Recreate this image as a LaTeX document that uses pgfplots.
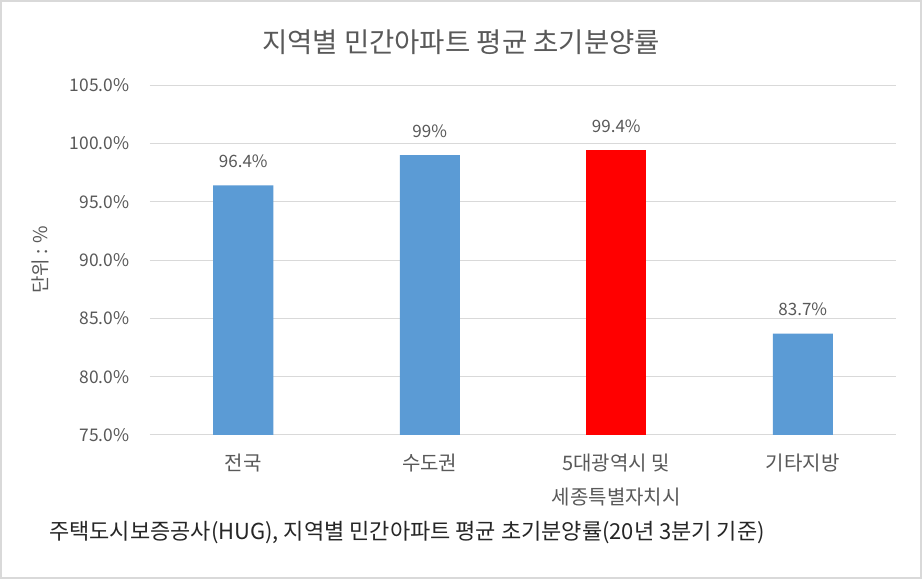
\documentclass[border=0pt]{standalone}
\usepackage{pgfplots}
\pgfplotsset{compat=1.18}
\usepackage{fontspec}
\setmainfont{Noto Sans CJK KR}
\definecolor{txt}{HTML}{595959}
\definecolor{grd}{HTML}{D9D9D9}
\definecolor{barblue}{HTML}{5B9BD5}
\begin{document}
\begin{tikzpicture}[x=1pt,y=1pt]
\useasboundingbox (0,0) rectangle (922,579);
\fill[white] (0,0) rectangle (922,579);
\draw[grd,line width=2pt] (1,1) rectangle (921,578);
\begin{axis}[
  at={(150pt,144pt)}, anchor=south west,
  scale only axis, width=746pt, height=350pt,
  xmin=-0.5, xmax=3.5, ymin=75, ymax=105,
  ytick={75,80,85,90,95,100,105},
  xtick={0,1,2,3},
  xticklabels={전국,수도권,{5대광역시 및\\세종특별자치시},기타지방},
  axis line style={draw=none},
  major tick length=0pt,
  ymajorgrids, grid style={draw=grd,line width=1pt},
  /pgf/number format/assume math mode=true,
  yticklabel={\pgfmathprintnumber[fixed,fixed zerofill,precision=1]{\tick}\%},
  yticklabel style={font=\fontsize{17.4}{20}\selectfont, text=txt, xshift=-17pt},
  xticklabel style={font=\fontsize{20}{34}\selectfont, text=txt, align=center, yshift=-15pt},
  ybar, bar width=60pt, bar shift=0pt,
  nodes near coords, point meta=explicit symbolic,
  every node near coord/.append style={font=\fontsize{17}{20}\selectfont, text=txt, yshift=14pt},
  clip=false,
]
\addplot[fill=barblue, draw=none] coordinates {(0,96.4) [96.4\%] (1,99) [99\%] (3,83.7) [83.7\%]};
\addplot[fill=red, draw=none] coordinates {(2,99.4) [99.4\%]};
\end{axis}
\node[text=txt, font=\fontsize{19}{22}\selectfont, rotate=90] at (40,319) {단위 : \%};
\node[text=txt, font=\fontsize{27.5}{30}\selectfont] at (461,537) {지역별 민간아파트 평균 초기분양률};
\node[text=black!85, font=\fontsize{22}{24}\selectfont] at (407,46) {주택도시보증공사(HUG), 지역별 민간아파트 평균 초기분양률(20년 3분기 기준)};
\end{tikzpicture}
\end{document}
